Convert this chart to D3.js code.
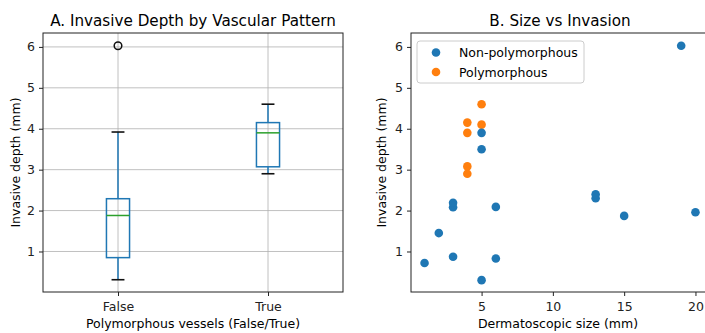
<!DOCTYPE html>
<html>
<head>
<meta charset="utf-8">
<script src="https://cdn.jsdelivr.net/npm/d3@7"></script>
<style>
  body { margin: 0; background: #fff; }
  svg { display: block; font-family: "DejaVu Sans", sans-serif; }
</style>
</head>
<body>
<svg id="chart" width="705" height="333"></svg>
<script>
// Panel A: box stats
const boxCategories = ["False", "True"];
const boxWhiskerLow = [0.31, 2.9];
const boxQ1 = [0.85, 3.07];
const boxMedian = [1.88, 3.9];
const boxQ3 = [2.29, 4.15];
const boxWhiskerHigh = [3.92, 4.6];
const boxOutliers = [[6.03], []];

// Panel B: scatter points
const nonPolySize = [1, 2, 3, 3, 3, 5, 5, 5, 6, 6, 13, 13, 15, 19, 20];
const nonPolyDepth = [0.72, 1.45, 0.87, 2.08, 2.19, 0.3, 3.5, 3.9, 2.09, 0.83, 2.3, 2.4, 1.87, 6.03, 1.96];
const polySize = [4, 4, 4, 4, 5, 5];
const polyDepth = [4.15, 3.9, 3.08, 2.9, 4.6, 4.1];

const depthTicks = [1, 2, 3, 4, 5, 6];
const sizeTicks = [5, 10, 15, 20];

const blue = "#1f77b4", orange = "#ff7f0e", green = "#2ca02c";
const svg = d3.select("#chart");

const plotTop = 33, plotBottom = 292;
const yScale = d3.scaleLinear().domain([0.01, 6.34]).range([plotBottom, plotTop]);

// ---------- Panel A ----------
const axA = { left: 43, right: 343 };
const xA = d3.scaleLinear().domain([0.5, 2.5]).range([axA.left, axA.right]);
const gA = svg.append("g");

// grid
gA.selectAll(".hgrid").data(depthTicks).enter().append("line")
  .attr("x1", axA.left).attr("x2", axA.right)
  .attr("y1", d => yScale(d)).attr("y2", d => yScale(d))
  .attr("stroke", "#b0b0b0").attr("stroke-width", 0.8);
gA.selectAll(".vgrid").data(boxCategories).enter().append("line")
  .attr("x1", (d, i) => xA(i + 1)).attr("x2", (d, i) => xA(i + 1))
  .attr("y1", plotTop).attr("y2", plotBottom)
  .attr("stroke", "#b0b0b0").attr("stroke-width", 0.8);

const boxHalf = 0.077, capHalf = 0.043;
const boxes = gA.selectAll(".box").data(boxCategories).enter().append("g");
// whiskers
boxes.append("line")
  .attr("x1", (d, i) => xA(i + 1)).attr("x2", (d, i) => xA(i + 1))
  .attr("y1", (d, i) => yScale(boxWhiskerLow[i])).attr("y2", (d, i) => yScale(boxQ1[i]))
  .attr("stroke", blue).attr("stroke-width", 1.5);
boxes.append("line")
  .attr("x1", (d, i) => xA(i + 1)).attr("x2", (d, i) => xA(i + 1))
  .attr("y1", (d, i) => yScale(boxQ3[i])).attr("y2", (d, i) => yScale(boxWhiskerHigh[i]))
  .attr("stroke", blue).attr("stroke-width", 1.5);
// caps
[boxWhiskerLow, boxWhiskerHigh].forEach(arr => {
  boxes.append("line")
    .attr("x1", (d, i) => xA(i + 1 - capHalf)).attr("x2", (d, i) => xA(i + 1 + capHalf))
    .attr("y1", (d, i) => yScale(arr[i])).attr("y2", (d, i) => yScale(arr[i]))
    .attr("stroke", "#111").attr("stroke-width", 1.6);
});
// box
boxes.append("rect")
  .attr("x", (d, i) => xA(i + 1 - boxHalf))
  .attr("width", (d, i) => xA(i + 1 + boxHalf) - xA(i + 1 - boxHalf))
  .attr("y", (d, i) => yScale(boxQ3[i]))
  .attr("height", (d, i) => yScale(boxQ1[i]) - yScale(boxQ3[i]))
  .attr("fill", "none").attr("stroke", blue).attr("stroke-width", 1.5);
// median
boxes.append("line")
  .attr("x1", (d, i) => xA(i + 1 - boxHalf)).attr("x2", (d, i) => xA(i + 1 + boxHalf))
  .attr("y1", (d, i) => yScale(boxMedian[i])).attr("y2", (d, i) => yScale(boxMedian[i]))
  .attr("stroke", green).attr("stroke-width", 1.5);
// outliers
boxOutliers.forEach((list, i) => {
  gA.selectAll(null).data(list).enter().append("circle")
    .attr("cx", xA(i + 1)).attr("cy", d => yScale(d)).attr("r", 3.8)
    .attr("fill", "none").attr("stroke", "#111").attr("stroke-width", 1.5);
});

gA.append("g").attr("transform", `translate(0,${plotBottom})`)
  .call(d3.axisBottom(xA).tickValues([1, 2]).tickFormat((d) => boxCategories[d - 1]).tickSize(4).tickPadding(6));
gA.append("g").attr("transform", `translate(${axA.left},0)`)
  .call(d3.axisLeft(yScale).tickValues(depthTicks).tickFormat(d3.format("d")).tickSize(4).tickPadding(4));
gA.append("rect").attr("x", axA.left).attr("y", plotTop)
  .attr("width", axA.right - axA.left).attr("height", plotBottom - plotTop)
  .attr("fill", "none").attr("stroke", "#222").attr("stroke-width", 1);

gA.append("text").attr("x", (axA.left + axA.right) / 2).attr("y", 26)
  .attr("text-anchor", "middle").style("font-size", "15.2px")
  .text("A. Invasive Depth by Vascular Pattern");
gA.append("text").attr("x", (axA.left + axA.right) / 2).attr("y", 328)
  .attr("text-anchor", "middle").style("font-size", "12.5px")
  .text("Polymorphous vessels (False/True)");
gA.append("text").attr("transform", `translate(20,${(plotTop + plotBottom) / 2}) rotate(-90)`)
  .attr("text-anchor", "middle").style("font-size", "12.5px")
  .text("Invasive depth (mm)");

// ---------- Panel B ----------
const axB = { left: 411, right: 709 };
const xB = d3.scaleLinear().domain([0.05, 20.95]).range([axB.left, axB.right]);
const gB = svg.append("g");

gB.selectAll(".po").data(polySize).enter().append("circle")
  .attr("cx", d => xB(d)).attr("cy", (d, i) => yScale(polyDepth[i])).attr("r", 4.3)
  .attr("fill", orange);
gB.selectAll(".np").data(nonPolySize).enter().append("circle")
  .attr("cx", d => xB(d)).attr("cy", (d, i) => yScale(nonPolyDepth[i])).attr("r", 4.3)
  .attr("fill", blue);

gB.append("g").attr("transform", `translate(0,${plotBottom})`)
  .call(d3.axisBottom(xB).tickValues(sizeTicks).tickSize(4).tickPadding(6));
gB.append("g").attr("transform", `translate(${axB.left},0)`)
  .call(d3.axisLeft(yScale).tickValues(depthTicks).tickFormat(d3.format("d")).tickSize(4).tickPadding(4));
gB.append("rect").attr("x", axB.left).attr("y", plotTop)
  .attr("width", axB.right - axB.left).attr("height", plotBottom - plotTop)
  .attr("fill", "none").attr("stroke", "#222").attr("stroke-width", 1);

// legend
const legend = gB.append("g").attr("transform", "translate(417,41)");
legend.append("rect").attr("width", 167).attr("height", 42).attr("rx", 3)
  .attr("fill", "rgba(255,255,255,0.8)").attr("stroke", "#ccc");
const legendItems = [["Non-polymorphous", blue], ["Polymorphous", orange]];
legendItems.forEach(([label, color], i) => {
  legend.append("circle").attr("cx", 19).attr("cy", 11.5 + i * 19.5).attr("r", 4.3).attr("fill", color);
  legend.append("text").attr("x", 42).attr("y", 16 + i * 19.5)
    .style("font-size", "12.5px").text(label);
});

gB.append("text").attr("x", (axB.left + axB.right) / 2).attr("y", 26)
  .attr("text-anchor", "middle").style("font-size", "15.2px")
  .text("B. Size vs Invasion");
gB.append("text").attr("x", (axB.left + axB.right) / 2 - 2).attr("y", 328)
  .attr("text-anchor", "middle").style("font-size", "12.5px")
  .text("Dermatoscopic size (mm)");
gB.append("text").attr("transform", `translate(386,${(plotTop + plotBottom) / 2}) rotate(-90)`)
  .attr("text-anchor", "middle").style("font-size", "12.5px")
  .text("Invasive depth (mm)");

svg.selectAll(".tick text").style("font-size", "12.5px").attr("fill", "#222").style("font-family", "DejaVu Sans");
svg.selectAll(".tick line").attr("stroke", "#222");
svg.selectAll(".domain").remove();
</script>
</body>
</html>
